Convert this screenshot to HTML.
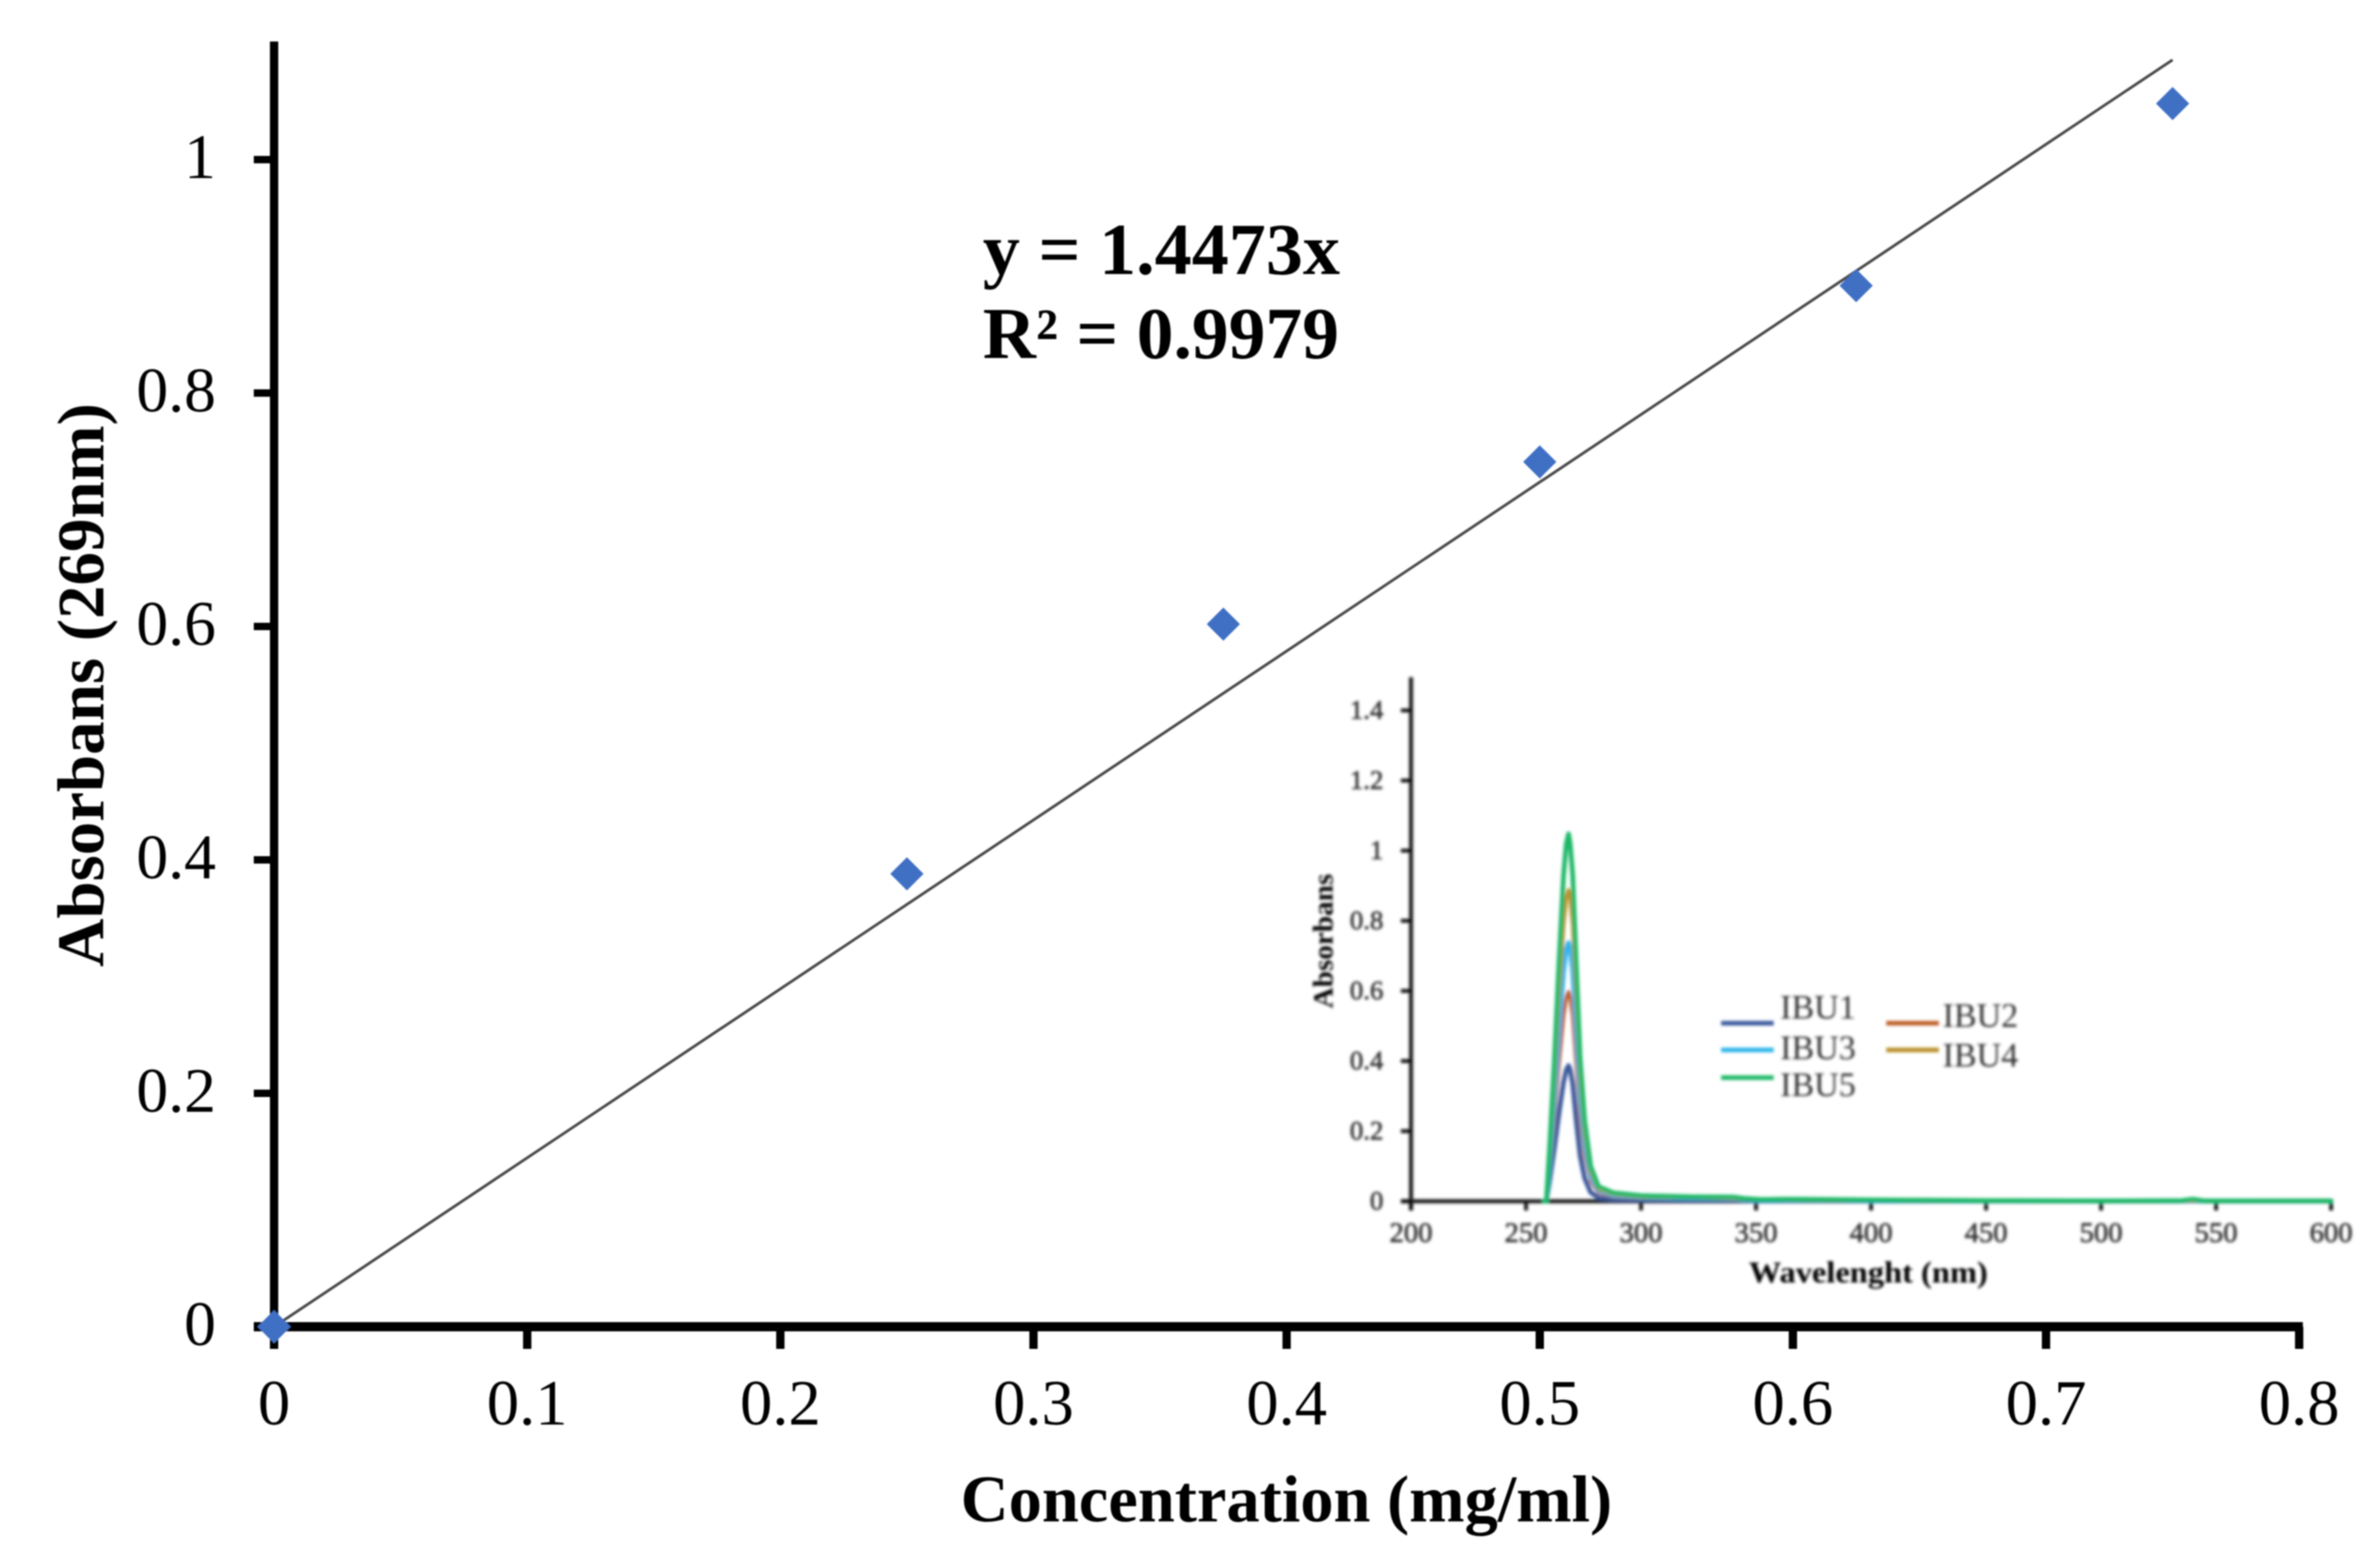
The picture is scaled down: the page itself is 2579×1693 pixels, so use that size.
<!DOCTYPE html>
<html lang="en">
<head>
<meta charset="utf-8">
<title>Absorbance calibration chart</title>
<style>
html,body{margin:0;padding:0;background:#fff;width:2579px;height:1693px;overflow:hidden}
svg{display:block}
text{font-family:"Liberation Serif","Times New Roman",serif;fill:#000}
</style>
</head>
<body>
<svg id="chart" xmlns="http://www.w3.org/2000/svg" width="2579" height="1693" viewBox="0 0 2579 1693">
<defs>
<filter id="soft" x="-5%" y="-5%" width="110%" height="110%"><feGaussianBlur stdDeviation="0.9"/></filter>
<filter id="softer" x="-5%" y="-5%" width="110%" height="110%"><feGaussianBlur stdDeviation="1.5"/></filter>
</defs>
<rect width="2579" height="1693" fill="#fff"/>
<g id="main" filter="url(#soft)">
<text x="1065" y="297" font-size="79" font-weight="bold" textLength="387" lengthAdjust="spacingAndGlyphs">y = 1.4473x</text>
<text x="1065" y="388" font-size="79" font-weight="bold" textLength="386" lengthAdjust="spacingAndGlyphs">R² = 0.9979</text>
<text x="1041" y="1649" font-size="72" font-weight="bold" textLength="706" lengthAdjust="spacingAndGlyphs">Concentration (mg/ml)</text>
<text transform="translate(112,1048) rotate(-90)" font-size="72" font-weight="bold" textLength="611" lengthAdjust="spacingAndGlyphs">Absorbans (269nm)</text>
</g>
<g id="inset" filter="url(#softer)">
<text x="1895" y="1390" font-size="33" font-weight="bold" fill="#222" textLength="259" lengthAdjust="spacingAndGlyphs">Wavelenght (nm)</text>
<text transform="translate(1444,1093) rotate(-90)" font-size="31" font-weight="bold" textLength="146" lengthAdjust="spacingAndGlyphs">Absorbans</text>
</g>
</svg>
<script>
// Main calibration chart data
const concentrations = [0, 0.25, 0.375, 0.5, 0.625, 0.75];
const absorbances = [0, 0.388, 0.602, 0.741, 0.892, 1.048];
const trendX = [0, 0.75];
const trendY = [0, 1.0855];
const xTickLabels = ['0', '0.1', '0.2', '0.3', '0.4', '0.5', '0.6', '0.7', '0.8'];
const yTickLabels = ['0', '0.2', '0.4', '0.6', '0.8', '1'];

// Inset spectrum data
const wavelengths = [258,258.8,260.3,262.3,264.3,266.3,267.5,268.5,269.2,270.3,271.8,273.5,275.5,278.1,281.5,288,300,322,340,345,352,365,385,400,430,450,500,535,540,545,600];
const ibu1 = [0,0,0.06,0.15,0.25,0.34,0.375,0.387,0.375,0.335,0.23,0.13,0.065,0.025,0.01,0.005,0.004,0.003,0.003,0.002,0.001,0.001,0.001,0.001,0.001,0.001,0.001,0.001,0.001,0.001,0.001];
const ibu2 = [0,0,0.09,0.23,0.39,0.53,0.58,0.597,0.58,0.53,0.39,0.235,0.13,0.057,0.024,0.013,0.009,0.007,0.006,0.004,0.003,0.002,0.002,0.002,0.001,0.001,0.001,0.001,0.001,0.001,0.001];
const ibu3 = [0,0,0.11,0.28,0.48,0.655,0.72,0.738,0.72,0.655,0.48,0.29,0.16,0.07,0.03,0.016,0.011,0.009,0.008,0.005,0.003,0.003,0.003,0.002,0.002,0.001,0.001,0.001,0.001,0.001,0.001];
const ibu4 = [0,0,0.13,0.34,0.58,0.79,0.865,0.888,0.865,0.79,0.58,0.35,0.195,0.085,0.035,0.02,0.013,0.011,0.009,0.006,0.004,0.004,0.003,0.003,0.002,0.001,0.001,0.001,0.002,0.001,0.002];
const ibu5 = [0,0,0.16,0.40,0.68,0.93,1.02,1.048,1.02,0.93,0.68,0.41,0.23,0.10,0.042,0.024,0.016,0.013,0.012,0.008,0.005,0.006,0.005,0.004,0.003,0.002,0.001,0.002,0.006,0.001,0.001];
const seriesNames = ['IBU1', 'IBU2', 'IBU3', 'IBU4', 'IBU5'];
const insetXTickLabels = ['200', '250', '300', '350', '400', '450', '500', '550', '600'];
const insetYTickLabels = ['0', '0.2', '0.4', '0.6', '0.8', '1', '1.2', '1.4'];

const NS = 'http://www.w3.org/2000/svg';
const mainG = document.getElementById('main');
const insetG = document.getElementById('inset');

function make(parent, tag, attrs, txt) {
  const el = document.createElementNS(NS, tag);
  for (const k in attrs) el.setAttribute(k, attrs[k]);
  if (txt !== undefined) el.textContent = txt;
  parent.appendChild(el);
  return el;
}

// Axis functions
const xMain = v => 297 + 2743 * v;
const yMain = v => 1438 - 1265 * v;
const xInset = v => 1529 + (v - 200) * 2.4925;
const yInset = v => 1302 - 380 * v;

// Main axes
const mainYAxis = make(mainG, 'line', {x1: xMain(0), x2: xMain(0), y1: 45, y2: 1462, stroke: '#000', 'stroke-width': 9});


const mainXAxis = make(mainG, 'line', {x1: 275, x2: xMain(0.8) + 4, y1: yMain(0), y2: yMain(0), stroke: '#000', 'stroke-width': 10});



xTickLabels.forEach(label => {
  const v = parseFloat(label);
  const tick = make(mainG, 'line', {x1: xMain(v), x2: xMain(v), y1: 1438, y2: 1462, stroke: '#000', 'stroke-width': 9});
  
  
  const t = make(mainG, 'text', {x: xMain(v), y: 1544, 'font-size': 70, 'text-anchor': 'middle'}, label);
  
  
});
yTickLabels.forEach(label => {
  const v = parseFloat(label);
  const tick = make(mainG, 'line', {x1: 275, x2: xMain(0), y1: yMain(v), y2: yMain(v), stroke: '#000', 'stroke-width': 8});
  
  
  const t = make(mainG, 'text', {x: 234, y: yMain(v) + 20, 'font-size': 69, 'text-anchor': 'end'}, label);
  
  
});

// Trendline and points
const trend = make(mainG, 'line', {x1: xMain(trendX[0]), y1: yMain(trendY[0]), x2: xMain(trendX[1]), y2: yMain(trendY[1]), stroke: '#4a4a4a', 'stroke-width': 3});


concentrations.forEach((c, i) => {
  const cx = xMain(c), cy = yMain(absorbances[i]), r = 18;
  const d = make(mainG, 'polygon', {points: [cx, cy - r, cx + r, cy, cx, cy + r, cx - r, cy].join(','), fill: '#4070c4'});
  
  
});

// Inset axes
const insetYAxis = make(insetG, 'line', {x1: xInset(200), x2: xInset(200), y1: 734, y2: 1312, stroke: '#222', 'stroke-width': 4.5});


const insetXAxis = make(insetG, 'line', {x1: 1518, x2: xInset(600), y1: yInset(0), y2: yInset(0), stroke: '#222', 'stroke-width': 4.5});


insetXTickLabels.forEach(label => {
  const v = parseFloat(label);
  const tick = make(insetG, 'line', {x1: xInset(v), x2: xInset(v), y1: 1302, y2: 1312, stroke: '#111', 'stroke-width': 4});
  
  
  const t = make(insetG, 'text', {x: xInset(v), y: 1346, 'font-size': 31, 'text-anchor': 'middle', stroke: '#333', 'stroke-width': 0.7, style: 'fill:#333'}, label);
  
  
});
insetYTickLabels.forEach(label => {
  const v = parseFloat(label);
  const tick = make(insetG, 'line', {x1: 1518, x2: xInset(200), y1: yInset(v), y2: yInset(v), stroke: '#111', 'stroke-width': 4});
  
  
  const t = make(insetG, 'text', {x: 1499, y: yInset(v) + 9, 'font-size': 29, 'text-anchor': 'end', stroke: '#333', 'stroke-width': 0.7, style: 'fill:#333'}, label);
  
  
});

// Inset series
const seriesValues = [ibu1, ibu2, ibu3, ibu4, ibu5];
const seriesColors = ['#3a5a9c', '#c0602a', '#2fb5ea', '#b8902c', '#1fb866'];
const seriesWidths = [5, 4, 5, 4, 5];
seriesValues.forEach((vals, i) => {
  const pts = vals.map((v, j) => xInset(wavelengths[j]).toFixed(1) + ',' + yInset(v).toFixed(1)).join(' ');
  const line = make(insetG, 'polyline', {points: pts, fill: 'none', stroke: seriesColors[i], 'stroke-width': seriesWidths[i], 'stroke-linejoin': 'round', 'stroke-linecap': 'round'});
  
  
});

// Inset legend
const legendLineX = [1865, 2044, 1865, 2044, 1865];
const legendLineY = [1109, 1109, 1138, 1138, 1168];
const legendTextX = [1929, 2105, 1929, 2105, 1929];
const legendTextY = [1104, 1113, 1148, 1156, 1188];
seriesNames.forEach((name, i) => {
  const sw = make(insetG, 'line', {x1: legendLineX[i], x2: legendLineX[i] + 57, y1: legendLineY[i], y2: legendLineY[i], stroke: seriesColors[i], 'stroke-width': 5});
  
  
  const t = make(insetG, 'text', {x: legendTextX[i], y: legendTextY[i], 'font-size': 37, style: 'fill:#333', textLength: 82, lengthAdjust: 'spacingAndGlyphs'}, name);
  
  
});
</script>
</body>
</html>
